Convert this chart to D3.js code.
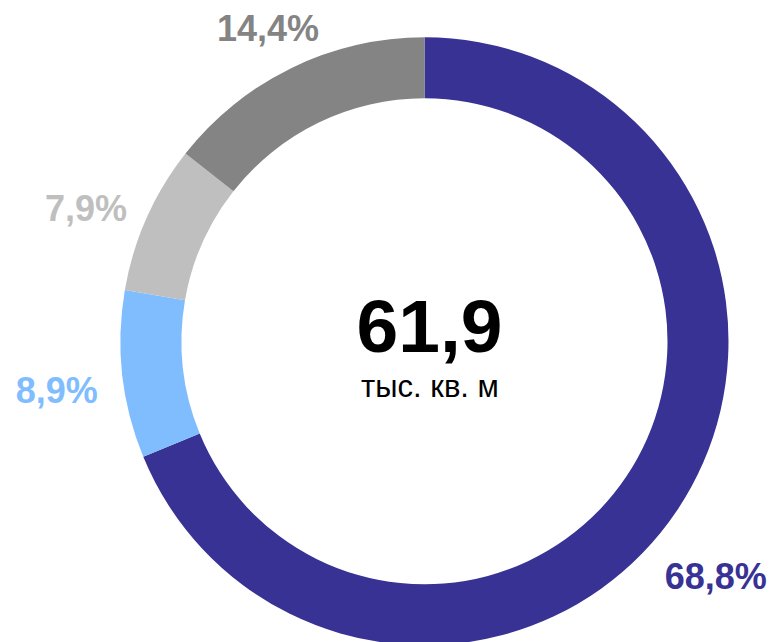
<!DOCTYPE html>
<html>
<head>
<meta charset="utf-8">
<script src="https://cdn.jsdelivr.net/npm/d3@7"></script>
<style>
  html, body { margin: 0; padding: 0; background: #fff; }
  svg { display: block; }
</style>
</head>
<body>
<svg id="chart" width="777" height="642"></svg>
<script>
// ---- data ----
const categories = ["A", "B", "C", "D"];
const values = [68.8, 8.9, 7.9, 14.4];
const labels = ["68,8%", "8,9%", "7,9%", "14,4%"];
const totalValue = "61,9";
const totalUnit = "тыс. кв. м";

// ---- style / layout ----
const colors = ["#373294", "#80BDFF", "#BFBFBF", "#848484"];
const W = 777, H = 642;
const cx = 424.5, cy = 341.3;
const outerR = 304, innerR = 243;
const labelR = 365;
const labelNudge = [[-12, 32], [-5, 9], [-5, 15], [3, 15]];
const labelFont = 36;

const svg = d3.select("#chart");
const g = svg.append("g").attr("transform", `translate(${cx},${cy})`);

const pie = d3.pie().sort(null).value(d => d.v);
const arcs = pie(categories.map((c, i) => ({ c, v: values[i], i })));

const arc = d3.arc().innerRadius(innerR).outerRadius(outerR);
const labelArc = d3.arc().innerRadius(labelR).outerRadius(labelR);

g.selectAll("path.slice")
  .data(arcs)
  .join("path")
  .attr("class", "slice")
  .attr("d", arc)
  .attr("fill", d => colors[d.data.i]);

g.selectAll("text.lbl")
  .data(arcs)
  .join("text")
  .attr("class", "lbl")
  .attr("x", d => labelArc.centroid(d)[0] + labelNudge[d.data.i][0])
  .attr("y", d => labelArc.centroid(d)[1] + labelNudge[d.data.i][1] + labelFont * 0.358)
  .attr("text-anchor", "middle")
  .attr("font-family", "Liberation Sans, Arial, sans-serif")
  .attr("font-weight", "bold")
  .attr("font-size", labelFont)
  .attr("fill", d => colors[d.data.i])
  .text(d => labels[d.data.i]);

g.append("text")
  .attr("x", 5)
  .attr("y", 352 - cy)
  .attr("text-anchor", "middle")
  .attr("font-family", "Liberation Sans, Arial, sans-serif")
  .attr("font-weight", "bold")
  .attr("font-size", 75)
  .attr("fill", "#000")
  .text(totalValue);

g.append("text")
  .attr("x", 5.5)
  .attr("y", 397 - cy)
  .attr("text-anchor", "middle")
  .attr("font-family", "Liberation Sans, Arial, sans-serif")
  .attr("font-size", 31)
  .attr("fill", "#000")
  .text(totalUnit);
</script>
</body>
</html>
